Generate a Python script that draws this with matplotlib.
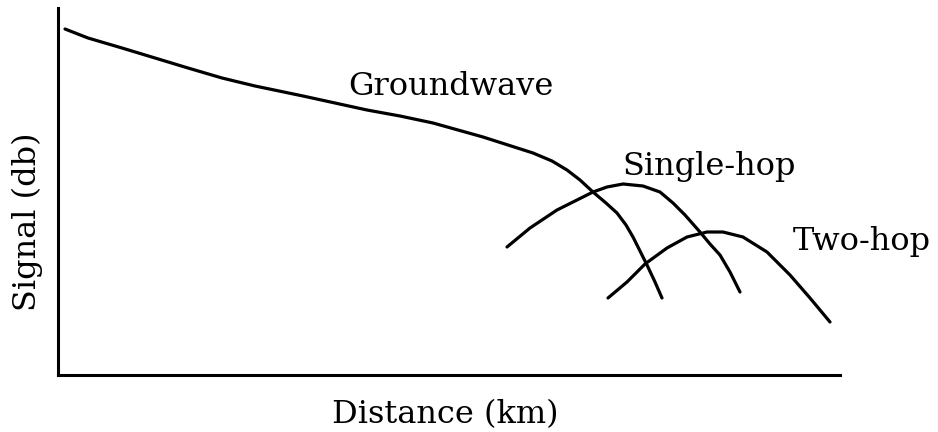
import matplotlib
matplotlib.use("Agg")
import matplotlib.pyplot as plt
import numpy as np

# Data (arbitrary units: distance, signal)
ground_x = [7, 30, 64, 97, 130, 164, 197, 245, 277, 309, 342, 375, 400, 425, 450,
            475, 494, 509, 522, 535, 548, 559, 568, 575, 582, 589, 597, 604]
ground_y = [346, 337, 327, 317, 307, 297, 289, 279, 272, 265, 259, 252, 245, 238, 230,
            222, 214, 205, 195, 183, 172, 162, 150, 138, 124, 110, 93, 77]

single_x = [449, 472, 499, 519, 535, 549, 565, 585, 602, 615, 627, 642, 652, 662, 672, 682]
single_y = [128, 147, 165, 175, 183, 188, 191, 189, 183, 172, 160, 143, 131, 120, 103, 83]

two_x = [550, 569, 587, 609, 629, 649, 665, 685, 709, 732, 752, 772]
two_y = [77, 93, 111, 127, 138, 143, 143, 138, 123, 100, 77, 53]

labels = ["Groundwave", "Single-hop", "Two-hop"]
label_pos = [(290, 280), (564, 200), (735, 125)]

xlabel = "Distance (km)"
ylabel = "Signal (db)"

fig = plt.figure(figsize=(9.38, 4.32), dpi=100)
ax = fig.add_axes([58/938, (432-375)/432, (840-58)/938, (375-8)/432])
ax.set_xlim(0, 782)
ax.set_ylim(0, 367)

for xs, ys in [(ground_x, ground_y), (single_x, single_y), (two_x, two_y)]:
    ax.plot(xs, ys, color="black", lw=2.3, solid_capstyle="round",
            solid_joinstyle="round")

font = dict(family="DejaVu Serif", fontsize=23)
for lab, (lx, ly) in zip(labels, label_pos):
    ax.text(lx, ly, lab, ha="left", va="baseline", **font)

ax.spines["top"].set_visible(False)
ax.spines["right"].set_visible(False)
ax.spines["left"].set_linewidth(2.2)
ax.spines["bottom"].set_linewidth(2.2)
ax.set_xticks([])
ax.set_yticks([])

fig.text(445/938, 1 - 415/432, xlabel, ha="center", va="center", **font)
fig.text(27/938, 1 - 222/432, ylabel, ha="center", va="center", rotation=90, **font)

fig.savefig("out.png", dpi=100)
